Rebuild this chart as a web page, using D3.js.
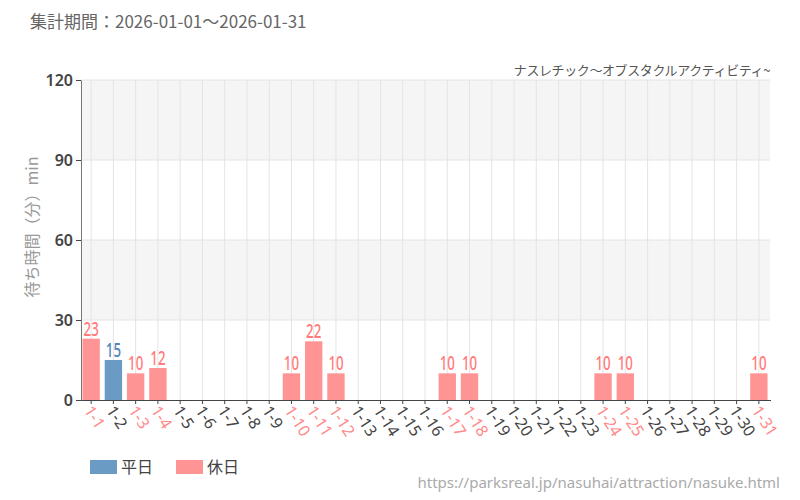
<!DOCTYPE html>
<html>
<head>
<meta charset="utf-8">
<script src="https://cdn.jsdelivr.net/npm/d3@7"></script>
<style>
body { margin: 0; background: #fff; }
svg { display: block; font-family: "Noto Sans CJK JP", "Noto Sans", sans-serif; }
</style>
</head>
<body>
<script>
let days = [];
for (let i = 1; i <= 31; i++) days.push("1-" + i);
let waits = [23, 15, 10, 12, null, null, null, null, null, 10, 22, 10, null, null, null, null, 10, 10, null, null, null, null, null, 10, 10, null, null, null, null, null, 10];
let holidays = ["1-1", "1-3", "1-4", "1-10", "1-11", "1-12", "1-17", "1-18", "1-24", "1-25", "1-31"];
let yTicks = [0, 30, 60, 90, 120];

let w = 800;
let h = 500;
let padLeft = 81, padRight = 770, padTop = 80, padBottom = 400;

const svg = d3.select("body").append("svg")
    .attr("width", w)
    .attr("height", h);

const xScale = d3.scaleBand()
    .domain(days)
    .range([padLeft - 1, padRight])
    .paddingInner(0.22)
    .paddingOuter(0.11);

const yScale = d3.scaleLinear()
    .domain([0, 120])
    .range([padBottom, padTop]);

// bands
svg.selectAll(".band")
    .data([[30, 60], [90, 120]])
    .enter()
    .append("rect")
    .attr("x", padLeft)
    .attr("width", padRight - padLeft)
    .attr("y", d => yScale(d[1]))
    .attr("height", d => yScale(d[0]) - yScale(d[1]))
    .attr("fill", "#f5f5f5");

// grid
svg.selectAll(".vgrid")
    .data(days)
    .enter()
    .append("line")
    .attr("x1", d => xScale(d) + xScale.bandwidth() / 2)
    .attr("x2", d => xScale(d) + xScale.bandwidth() / 2)
    .attr("y1", padTop)
    .attr("y2", padBottom)
    .attr("stroke", "#e4e4e4");

svg.selectAll(".hgrid")
    .data(yTicks.slice(1))
    .enter()
    .append("line")
    .attr("x1", padLeft)
    .attr("x2", padRight)
    .attr("y1", d => yScale(d))
    .attr("y2", d => yScale(d))
    .attr("stroke", "#e4e4e4");

let isHoliday = d => holidays.indexOf(d) >= 0;

// bars
svg.selectAll(".bar")
    .data(days.filter((d, i) => waits[i] != null))
    .enter()
    .append("rect")
    .attr("x", d => xScale(d))
    .attr("width", xScale.bandwidth())
    .attr("y", d => yScale(waits[days.indexOf(d)]))
    .attr("height", d => padBottom - yScale(waits[days.indexOf(d)]))
    .attr("fill", d => isHoliday(d) ? "#ff9494" : "#6a9bc4");

// value labels, squeezed to look condensed
svg.selectAll(".val")
    .data(days.filter((d, i) => waits[i] != null))
    .enter()
    .append("text")
    .attr("transform", d => "translate(" + (xScale(d) + xScale.bandwidth() / 2) + "," + (yScale(waits[days.indexOf(d)]) - 3) + ") scale(0.7,1)")
    .attr("text-anchor", "middle")
    .style("font-family", "'Noto Sans', sans-serif")
    .style("font-size", "19px")
    .style("font-weight", "500")
    .attr("fill", d => isHoliday(d) ? "#ff7b7b" : "#4f86b8")
    .text(d => waits[days.indexOf(d)]);

// axes
const xAxis = d3.axisBottom(xScale).tickSize(4).tickSizeOuter(0);
const gx = svg.append("g")
    .attr("transform", "translate(0," + padBottom + ")")
    .call(xAxis);
gx.select(".domain").attr("stroke", "#444").attr("d", "M" + padLeft + ",0.5H" + (padRight + 1));
gx.selectAll(".tick line").attr("stroke", "#444");
gx.selectAll(".tick text")
    .attr("text-anchor", "start")
    .attr("transform", "translate(-5,4) rotate(57)")
    .attr("dy", "0.35em")
    .attr("x", 4)
    .attr("y", 0)
    .style("font-family", "'Noto Sans', sans-serif")
    .style("font-size", "16px")
    .attr("fill", d => isHoliday(d) ? "#ff8a8a" : "#444");

const yAxis = d3.axisLeft(yScale).tickValues(yTicks).tickSize(5).tickSizeOuter(0);
const gy = svg.append("g")
    .attr("transform", "translate(" + padLeft + ",0)")
    .call(yAxis);
gy.select(".domain").attr("stroke", "#777");
gy.selectAll(".tick line").attr("stroke", "#444");
gy.selectAll(".tick text")
    .attr("x", -8)
    .style("font-family", "'Noto Sans', sans-serif")
    .style("font-size", "16px")
    .style("font-weight", "600")
    .attr("fill", "#444");

// titles
svg.append("text")
    .attr("x", 30)
    .attr("y", 28)
    .style("font-size", "17px")
    .attr("fill", "#666")
    .text("集計期間：2026-01-01～2026-01-31");

svg.append("text")
    .attr("x", padRight)
    .attr("y", 75)
    .attr("text-anchor", "end")
    .style("font-size", "13px")
    .style("letter-spacing", "-0.4px")
    .attr("fill", "#555")
    .text("ナスレチック～オブスタクルアクティビティ~");

svg.append("text")
    .attr("transform", "translate(38,227) rotate(-90)")
    .attr("text-anchor", "middle")
    .style("font-size", "16px")
    .attr("fill", "#999")
    .text("待ち時間（分）min");

// legend
let legendItems = ["平日", "休日"];
let legendColors = ["#6a9bc4", "#ff9494"];
let legend = svg.append("g");
legend.selectAll("rect")
    .data(legendItems)
    .enter()
    .append("rect")
    .attr("x", (d, i) => 90 + i * 86)
    .attr("y", 460)
    .attr("width", 27)
    .attr("height", 14)
    .attr("fill", (d, i) => legendColors[i]);
legend.selectAll("text")
    .data(legendItems)
    .enter()
    .append("text")
    .attr("x", (d, i) => 121 + i * 86)
    .attr("y", 473)
    .style("font-size", "16px")
    .attr("fill", "#444")
    .text(d => d);

svg.append("text")
    .attr("x", 780)
    .attr("y", 488)
    .attr("text-anchor", "end")
    .style("font-family", "'Noto Sans', sans-serif")
    .style("font-size", "15px")
    .attr("fill", "#aaa")
    .text("https://parksreal.jp/nasuhai/attraction/nasuke.html");
</script>
</body>
</html>
